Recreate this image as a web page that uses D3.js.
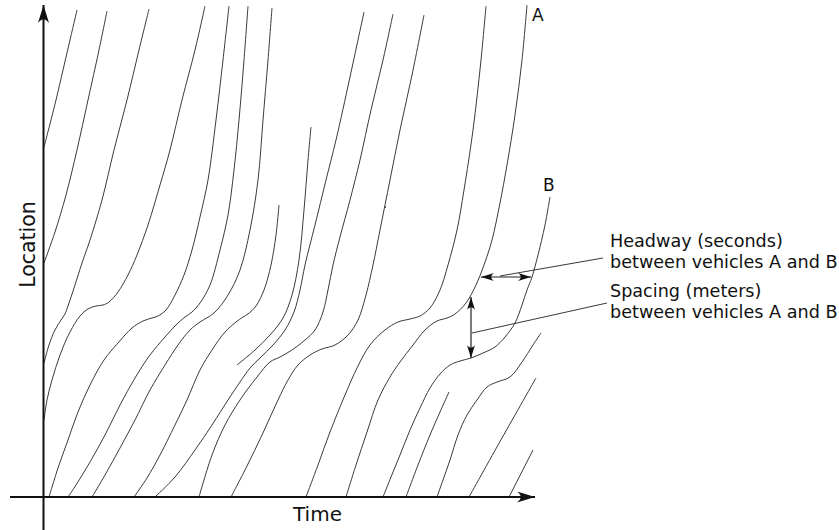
<!DOCTYPE html>
<html>
<head>
<meta charset="utf-8">
<script src="https://cdn.jsdelivr.net/npm/d3@7"></script>
<style>
  body { margin: 0; background: #fff; }
  svg { display: block; }
  text { font-family: "DejaVu Sans", sans-serif; fill: #111; }
</style>
</head>
<body>
<svg id="chart" width="839" height="530"></svg>
<script>
// Vehicle trajectories as [time, location] samples (arbitrary units)
const veh01 = [[33,487],[26,457],[19,427],[12,397],[6,373],[0,350]];
const veh02 = [[63,486],[55,447],[44,397],[33,347],[22,302],[11,265],[0,234]];
const veh03 = [[105,488],[95,447],[83,397],[70,347],[58,297],[46,257],[38,234],[30,209],[24,191],[21,183],[17,177],[11,167],[5,152],[0,134]];
const veh04 = [[161,491],[151,447],[138,397],[126,347],[116,312],[104,272],[93,242],[84,222],[74,205],[65,195],[59,192],[52,191],[44,188],[36,181],[26,165],[16,142],[8,117],[3,97],[0,77]];
const veh05 = [[185,491],[179,437],[172,377],[164,317],[156,280],[148,247],[140,222],[131,202],[122,187],[114,181],[108,179],[99,176],[88,169],[74,154],[60,137],[46,112],[34,85],[24,57],[14,29],[5,0]];
const veh06 = [[204,491],[200,437],[195,377],[190,327],[184,282],[176,247],[166,212],[156,194],[148,185],[141,180],[132,172],[121,160],[106,142],[91,119],[76,92],[61,62],[46,35],[32,12],[24,0]];
const veh07 = [[228,489],[224,437],[219,377],[214,317],[206,267],[196,227],[184,202],[170,184],[156,175],[146,167],[134,152],[121,132],[106,107],[91,77],[76,49],[61,22],[48,0]];
const veh08 = [[235,292],[232,262],[227,232],[220,207],[212,191],[204,183],[199,180],[192,175],[181,165],[168,147],[156,127],[143,97],[131,72],[116,42],[103,19],[90,0]];
const veh09 = [[267,370],[264,337],[260,287],[255,237],[248,202],[239,179],[226,162],[211,147],[193,132]];
const veh10 = [[320,485],[306,420],[292,357],[282,317],[271,272],[261,232],[256,207],[250,185],[241,167],[229,152],[216,139],[206,129],[196,115],[184,97],[168,72],[151,47],[131,20],[111,0]];
const veh11 = [[349,483],[339,437],[327,387],[316,337],[306,297],[296,260],[289,232],[284,207],[279,185],[271,167],[261,157],[248,147],[236,140],[226,135],[213,120],[196,97],[181,72],[168,42],[155,0]];
const veh12 = [[380,482],[368,422],[356,367],[346,317],[336,267],[329,232],[322,202],[314,177],[304,162],[291,152],[278,148],[266,142],[254,132],[244,117],[234,97],[218,62],[202,29],[187,0]];
const veh13 = [[442,491],[437,437],[429,367],[420,307],[413,267],[404,232],[396,207],[386,189],[376,181],[366,178],[354,175],[341,167],[326,152],[313,129],[301,102],[286,65],[274,32],[262,0]];
const vehA  = [[483,492],[478,437],[471,382],[463,332],[456,294],[448,257],[440,232],[432,212],[422,194],[411,183],[403,179],[393,176],[381,167],[369,152],[356,135],[346,120],[334,97],[323,65],[312,32],[302,0]];
const vehB  = [[506,300],[501,272],[494,242],[488,220],[483,207],[478,192],[471,174],[461,160],[451,150],[439,144],[427,139],[416,136],[406,132],[396,123],[386,109],[376,89],[366,67],[356,42],[347,20],[339,0]];
const veh16 = [[405,105],[396,85],[386,62],[374,32],[362,0]];
const veh17 = [[497,164],[489,152],[478,135],[466,120],[453,115],[443,110],[433,97],[423,82],[414,62],[406,37],[399,17],[393,0]];
const veh18 = [[492,119],[458,59],[425,0]];
const veh19 = [[489,47],[465,0]];

const trajectories = [veh01, veh02, veh03, veh04, veh05, veh06, veh07, veh08, veh09, veh10,
                      veh11, veh12, veh13, vehA, vehB, veh16, veh17, veh18, veh19];

// A stray pen speck on one trajectory
const specks = [[341, 290]];

// Axis extents (data units) and annotation anchors
const timeAxisExtent = [-34, 491];
const locAxisExtent = [-33, 492];
const headway = { loc: 220, from: 437, to: 487, leader: [[456, 221], [559, 239]] };
const spacing = { time: 427, from: 200, to: 139, leader: [[428, 164], [563, 194]] };
const vehicleLabels = [["A", 488, 476], ["B", 499, 306]];
const noteLines = [
  ["Headway (seconds)", 566, 250],
  ["between vehicles A and B", 566, 229],
  ["Spacing (meters)", 566, 200],
  ["between vehicles A and B", 566, 179]
];

const svg = d3.select("#chart");
const x = d3.scaleLinear().domain([0, 490]).range([44, 534]);
const y = d3.scaleLinear().domain([0, 490]).range([497, 7]);

const defs = svg.append("defs");
function arrowMarker(id, len, half) {
  defs.append("marker")
    .attr("id", id)
    .attr("markerUnits", "userSpaceOnUse")
    .attr("viewBox", `${-len} ${-half} ${len + 1} ${half * 2}`)
    .attr("refX", 0).attr("refY", 0)
    .attr("markerWidth", len + 1).attr("markerHeight", half * 2)
    .attr("orient", "auto-start-reverse")
    .append("path")
    .attr("d", `M0,0 L${-len},${-half} C${-len * 0.72},${-half * 0.3} ${-len * 0.72},${half * 0.3} ${-len},${half} Z`)
    .attr("fill", "#111");
}
arrowMarker("axisArrow", 18, 5.5);
arrowMarker("smallArrow", 13, 4);

// Trajectories
const line = d3.line().x(d => x(d[0])).y(d => y(d[1])).curve(d3.curveCatmullRom.alpha(0.5));
svg.append("g")
  .selectAll("path")
  .data(trajectories)
  .join("path")
  .attr("d", line)
  .attr("fill", "none")
  .attr("stroke", "#3a3a3a")
  .attr("stroke-width", 1);

svg.append("g")
  .selectAll("circle")
  .data(specks)
  .join("circle")
  .attr("cx", d => x(d[0]))
  .attr("cy", d => y(d[1]))
  .attr("r", 0.9)
  .attr("fill", "#333");

// Axes
svg.append("line")
  .attr("x1", x(timeAxisExtent[0])).attr("y1", y(0))
  .attr("x2", x(timeAxisExtent[1])).attr("y2", y(0))
  .attr("stroke", "#111").attr("stroke-width", 2)
  .attr("marker-end", "url(#axisArrow)");
svg.append("line")
  .attr("x1", x(0) - 0.5).attr("y1", y(locAxisExtent[0]))
  .attr("x2", x(0) - 0.5).attr("y2", y(locAxisExtent[1]))
  .attr("stroke", "#111").attr("stroke-width", 2)
  .attr("marker-end", "url(#axisArrow)");

svg.append("text")
  .attr("x", 293).attr("y", 521)
  .attr("font-size", 20)
  .text("Time");
svg.append("text")
  .attr("transform", "translate(35,244.5) rotate(-90)")
  .attr("text-anchor", "middle")
  .attr("font-size", 20.5)
  .text("Location");

// Headway and spacing annotations
const ann = svg.append("g").attr("stroke", "#222").attr("stroke-width", 1.2).attr("fill", "none");
ann.append("line")
  .attr("x1", x(headway.from)).attr("y1", y(headway.loc))
  .attr("x2", x(headway.to)).attr("y2", y(headway.loc))
  .attr("marker-start", "url(#smallArrow)")
  .attr("marker-end", "url(#smallArrow)");
ann.append("line")
  .attr("x1", x(spacing.time)).attr("y1", y(spacing.from))
  .attr("x2", x(spacing.time)).attr("y2", y(spacing.to))
  .attr("marker-start", "url(#smallArrow)")
  .attr("marker-end", "url(#smallArrow)");
[headway.leader, spacing.leader].forEach(seg => {
  ann.append("line")
    .attr("x1", x(seg[0][0])).attr("y1", y(seg[0][1]))
    .attr("x2", x(seg[1][0])).attr("y2", y(seg[1][1]))
    .attr("stroke-width", 0.9);
});

svg.append("g")
  .selectAll("text")
  .data(noteLines)
  .join("text")
  .attr("x", d => x(d[1]))
  .attr("y", d => y(d[2]))
  .attr("font-size", 17.6)
  .text(d => d[0]);

svg.append("g")
  .selectAll("text")
  .data(vehicleLabels)
  .join("text")
  .attr("x", d => x(d[1]))
  .attr("y", d => y(d[2]))
  .attr("font-size", 17)
  .text(d => d[0]);
</script>
</body>
</html>
